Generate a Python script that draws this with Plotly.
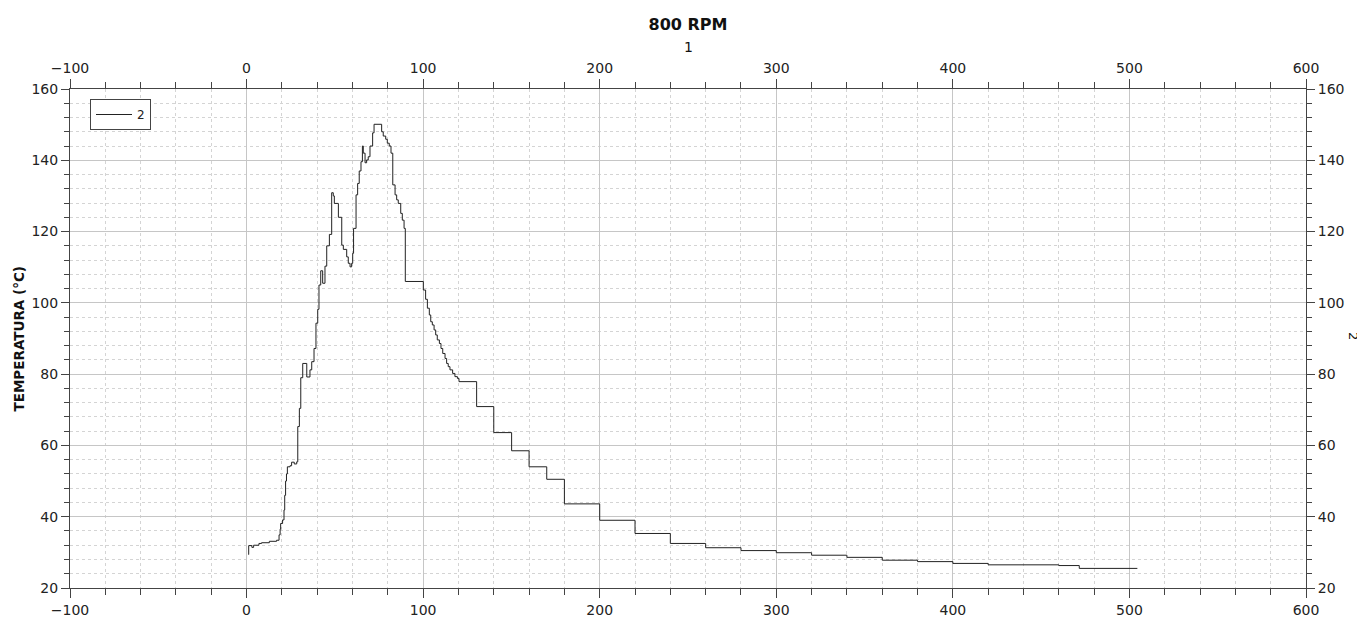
import plotly.graph_objects as go

# step points: time (x) and temperature (y); value holds from x until next x
time_s = [1.0, 1.2, 3.0, 4.0, 7.0, 8.5, 12.9, 17.0, 18.4, 19.0, 19.3, 20.4, 21.2, 21.6, 22.1, 22.6,
          23.1, 24.6, 25.5, 27.0, 28.4, 29.0, 29.9, 30.7, 31.8, 34.1, 35.9, 36.9, 38.2, 39.3, 40.3,
          41.0, 42.0, 43.1, 44.4, 45.4, 46.9, 48.2, 49.1, 49.7, 52.0, 53.9, 54.8, 56.7, 57.6, 58.6,
          59.5, 60.1, 60.6, 62.0, 62.9, 63.8, 64.8, 65.6, 66.1, 67.1, 68.0, 68.9, 69.9, 71.4, 72.2,
          76.5, 77.4, 78.8, 79.7, 80.8, 81.8, 82.8, 84.1, 85.0, 85.9, 87.3, 88.2, 89.2, 89.9,
          100.1, 101.4, 102.4, 103.5, 104.3, 105.2, 106.2, 107.1, 108.0, 109.2, 110.1, 111.1, 112.4,
          113.3, 114.2, 115.2, 116.7, 118.0, 119.4, 120.3, 130.3, 140.0, 150.1, 160.0, 170.0, 180.0,
          200.0, 220.0, 240.0, 260.0, 280.0, 300.0, 320.0, 340.0, 360.0, 380.0, 400.0, 420.0, 460.0,
          471.6, 504.5]
temp_c = [29.4, 31.9, 31.4, 32.0, 32.5, 32.7, 33.1, 33.4, 34.9, 36.5, 38.1, 39.1, 41.9, 46.0, 50.0, 52.0,
          54.0, 54.3, 55.3, 54.8, 55.4, 65.3, 70.4, 79.0, 83.0, 79.2, 81.2, 83.5, 87.2, 94.3, 98.2,
          105.0, 109.0, 105.5, 110.3, 116.0, 119.2, 130.9, 130.0, 127.9, 124.0, 116.2, 115.0, 112.9, 111.1, 110.1,
          111.1, 113.9, 120.9, 130.3, 133.5, 137.0, 139.6, 144.0, 142.0, 139.3, 140.1, 141.0, 144.0, 147.7, 150.1,
          148.0, 146.8, 145.9, 144.8, 144.0, 142.0, 133.1, 130.3, 128.9, 127.9, 125.1, 123.2, 120.9, 106.0,
          103.6, 101.0, 98.5, 96.6, 94.7, 93.8, 92.4, 91.0, 89.6, 88.6, 87.2, 85.8, 84.4,
          83.0, 82.1, 81.2, 80.2, 79.3, 78.8, 77.9, 70.9, 63.6, 58.5, 54.0, 50.5, 43.6,
          39.0, 35.3, 32.5, 31.3, 30.5, 29.9, 29.2, 28.6, 27.8, 27.4, 26.9, 26.5, 26.3,
          25.5, 25.5]

title_text = "800 RPM"
x_title_top = "1"
y_title_left = "TEMPERATURA (°C)"
y_title_right = "2"
series_name = "2"

FONT = "DejaVu Sans"
tick_font = dict(family=FONT, size=14, color="#222")

# the page body has an 8px margin, so the figure is 8px smaller and margins shifted
W, H = 1357, 611
ML, MT = 62, 81
PW, PH = 1236, 499

fig = go.Figure()
fig.add_trace(go.Scatter(x=time_s, y=temp_c, mode="lines", line_shape="hv",
                         line=dict(color="#222", width=1), name=series_name))
fig.add_trace(go.Scatter(x=time_s, y=temp_c, mode="lines", xaxis="x2", yaxis="y2",
                         line=dict(color="rgba(0,0,0,0)", width=0), showlegend=False,
                         hoverinfo="skip"))

common_x = dict(range=[-100, 600], dtick=100, tick0=0, showgrid=True, gridcolor="#c6c6c6",
                gridwidth=1, showline=True, linecolor="#444", linewidth=1, ticks="outside",
                ticklen=9, tickcolor="#444", tickfont=tick_font, zeroline=False, automargin=False,
                minor=dict(dtick=20, showgrid=True, gridcolor="#d4d4d4", griddash="3px,3px",
                           ticks="outside", ticklen=6, tickcolor="#444"))
common_y = dict(range=[20, 160], dtick=20, tick0=0, showgrid=True, gridcolor="#c6c6c6",
                gridwidth=1, showline=True, linecolor="#444", linewidth=1, ticks="outside",
                ticklen=8, tickcolor="#444", tickfont=tick_font, zeroline=False, automargin=False,
                minor=dict(dtick=4, showgrid=True, gridcolor="#d4d4d4", griddash="3px,3px",
                           ticks="outside", ticklen=5, tickcolor="#444"))

fig.update_layout(
    width=W, height=H,
    margin=dict(l=ML, r=W - ML - PW, t=MT, b=H - MT - PH),
    paper_bgcolor="white", plot_bgcolor="white",
    title=dict(text="<b>" + title_text + "</b>", x=(ML + PW / 2) / W, xanchor="center",
               yref="container", y=1 - 16 / H, yanchor="middle",
               font=dict(family=FONT, size=16, color="#111")),
    xaxis=dict(**common_x),
    xaxis2=dict(**common_x, overlaying="x", side="top"),
    yaxis=dict(**common_y),
    yaxis2=dict(**common_y, overlaying="y", side="right"),
    showlegend=True,
    legend=dict(x=(90 - 70) / PW, y=1 - (99 - 89) / PH, xanchor="left", yanchor="top",
                bgcolor="white", bordercolor="#444", borderwidth=1,
                font=dict(family=FONT, size=12, color="#222"),
                itemwidth=36, tracegroupgap=0),
    annotations=[
        dict(text=x_title_top, xref="paper", yref="paper", x=0.5, y=1 + (89 - 47) / PH,
             xanchor="center", yanchor="middle", showarrow=False,
             font=dict(family=FONT, size=14, color="#111")),
        dict(text="<b>" + y_title_left + "</b>", xref="paper", yref="paper",
             x=-(70 - 18) / PW, y=0.5, xanchor="center", yanchor="middle", textangle=-90,
             showarrow=False, font=dict(family=FONT, size=13.5, color="#111")),
        dict(text=y_title_right, xref="paper", yref="paper",
             x=1 + (1354 - 1306) / PW, y=1 - (336 - 89) / PH, xanchor="center", yanchor="middle",
             textangle=90, showarrow=False, font=dict(family=FONT, size=13, color="#111")),
    ],
)
fig.write_html("out.html")
